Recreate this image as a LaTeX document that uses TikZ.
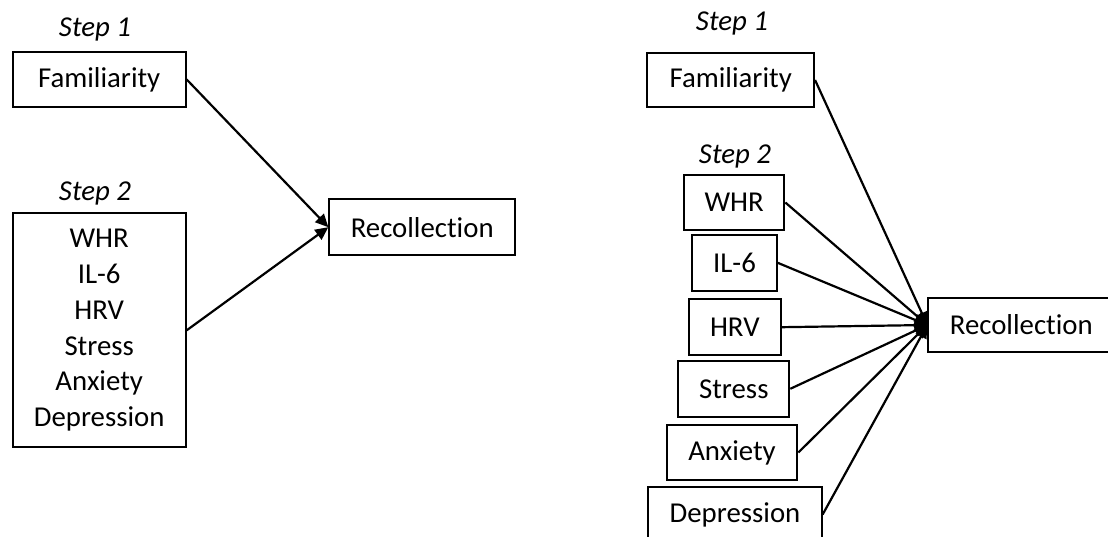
\documentclass[tikz,border=0pt]{standalone}
\usepackage{fontspec}
\setmainfont{Carlito}[Ligatures={NoCommon}]
\usetikzlibrary{arrows.meta}
\begin{document}
\begin{tikzpicture}[x=1pt,y=-1pt,
  every node/.style={font=\fontsize{28.8}{35.8}\selectfont, inner sep=0pt},
  box/.style={draw, line width=2pt, rectangle, align=center},
  steplabel/.style={anchor=base, font=\fontsize{28.8}{35.8}\selectfont\itshape},
  conn/.style={line width=2.2pt, -{Triangle[length=13pt,width=12pt]}}
]
\useasboundingbox (0,0) rectangle (1108,537);
\clip (0,0) rectangle (1108,537);

% ---------- left panel ----------
\node[steplabel] (s1a) at (95,37) {Step 1};
\node[box, minimum width=173pt, minimum height=55.6pt] (fama) at (99.2,79.5) {Familiarity};
\node[steplabel] (s2a) at (95,200.7) {Step 2};
\node[box, minimum width=173pt, minimum height=234pt] (grpa) at (99.2,330.3)
  {WHR\\IL-6\\HRV\\Stress\\Anxiety\\Depression};
\node[box, minimum width=185.7pt, minimum height=55.7pt] (reca) at (422.2,227.2) {Recollection};
\draw[conn] (fama.east) -- (reca.west);
\draw[conn] (grpa.east) -- (reca.west);

% ---------- right panel ----------
\node[steplabel] (s1b) at (732,30.7) {Step 1};
\node[box, minimum width=166.7pt, minimum height=54.7pt] (famb) at (730.7,80) {Familiarity};
\node[steplabel] (s2b) at (735,163.3) {Step 2};
\node[box, minimum width=100.3pt, minimum height=55pt] (whr) at (734.2,202.5) {WHR};
\node[box, minimum width=84.4pt, minimum height=55.7pt] (il6) at (734.5,262.8) {IL-6};
\node[box, minimum width=91.7pt, minimum height=55.7pt] (hrv) at (734.8,327.2) {HRV};
\node[box, minimum width=111pt, minimum height=55.7pt] (stress) at (733.8,388.8) {Stress};
\node[box, minimum width=130.7pt, minimum height=55pt] (anx) at (732,452.5) {Anxiety};
\node[box, minimum width=173.3pt, minimum height=55.7pt] (dep) at (735,514.5) {Depression};
\node[box, minimum width=200pt, minimum height=53.4pt, text width=186pt, align=center] (recb) at (1028.3,325) {\hspace*{-14pt}Recollection};
\foreach \n in {famb,whr,il6,hrv,stress,anx,dep}
  \draw[conn] (\n.east) -- (recb.west);
\end{tikzpicture}
\end{document}
